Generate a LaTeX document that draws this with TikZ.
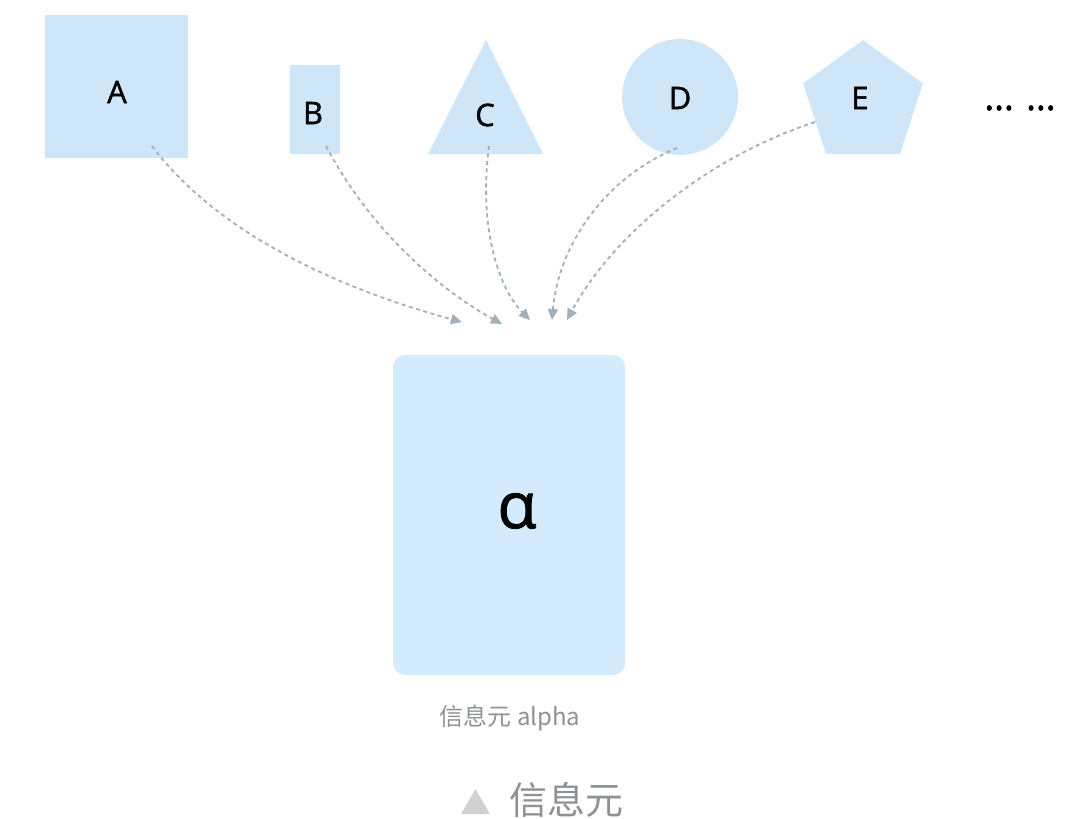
\documentclass[tikz,border=0pt]{standalone}
\usepackage{fontspec}
\setmainfont{Open Sans}
\newfontfamily\semib{Open Sans}[FakeBold=1.3]
\newfontfamily\cjk{Noto Sans CJK SC}
\usetikzlibrary{arrows.meta,shapes.geometric}
\definecolor{shapefill}{HTML}{CFE6F8}
\definecolor{boxfill}{HTML}{D3EBFC}
\definecolor{arrowcol}{HTML}{9FB0BB}
\definecolor{capgray}{HTML}{8E9296}
\tikzset{
  shp/.style={fill=shapefill, draw=none, inner sep=0pt},
  lbl/.style={font=\semib\fontsize{31}{36}\selectfont, text=black},
  link/.style={draw=arrowcol, line width=1.8pt, dash pattern=on 4pt off 3.5pt,
    -{Triangle[length=11pt,width=10pt,fill=arrowcol]}},
}
\begin{document}
\begin{tikzpicture}[x=1pt,y=-1pt]
\useasboundingbox (0,0) rectangle (1080,819);
% shapes
\node[shp, minimum width=143pt, minimum height=143pt] (A) at (116.5,86.5) {};
\node[lbl] (Alab) at (117,92) {A};
\node[shp, minimum width=50pt, minimum height=89pt] (B) at (315,109.5) {};
\node[lbl] (Blab) at (313,113) {B};
\fill[shapefill] (486,40) -- (543,154) -- (428,154) -- cycle;
\node[lbl] (Clab) at (485,115) {C};
\node[shp, circle, minimum size=116pt] (D) at (680,97) {};
\node[lbl] (Dlab) at (680,98) {D};
\node[shp, regular polygon, regular polygon sides=5, minimum size=126pt] (E) at (863,103) {};
\node[lbl] (Elab) at (860,98) {E};
\node[font=\semib\fontsize{38}{44}\selectfont] (dots) at (1020,108) {…\kern 12pt…};
% alpha box
\node[fill=boxfill, rounded corners=12pt, minimum width=232pt, minimum height=320pt] (alpha) at (509,515) {};
\node[font=\semib\fontsize{64}{70}\selectfont] (alab) at (517,511) {α};
\node[font=\fontsize{24}{28}\selectfont, text=capgray] (cap) at (510,718) {\cjk 信息元 alpha};
\node[font=\fontsize{38}{42}\selectfont, text=capgray] (title) at (566,800) {\cjk 信息元};
\fill[black!18] (461,814) -- (490,814) -- (475.5,789) -- cycle;
% connectors
\coordinate (a0) at (152,146);
\coordinate (a1) at (462,322);
\coordinate (b0) at (326,146);
\coordinate (b1) at (502,324);
\coordinate (c0) at (489,146);
\coordinate (c1) at (530,320);
\coordinate (d0) at (677,148);
\coordinate (d1) at (552,320);
\coordinate (e0) at (815,122);
\coordinate (e1) at (567,320);
\draw[link] (a0) .. controls (230,250) and (380,300) .. (a1);
\draw[link] (b0) .. controls (370,230) and (440,290) .. (b1);
\draw[link] (c0) .. controls (478,230) and (500,290) .. (c1);
\draw[link] (d0) .. controls (600,180) and (558,250) .. (d1);
\draw[link] (e0) .. controls (700,160) and (610,240) .. (e1);
\end{tikzpicture}
\end{document}
